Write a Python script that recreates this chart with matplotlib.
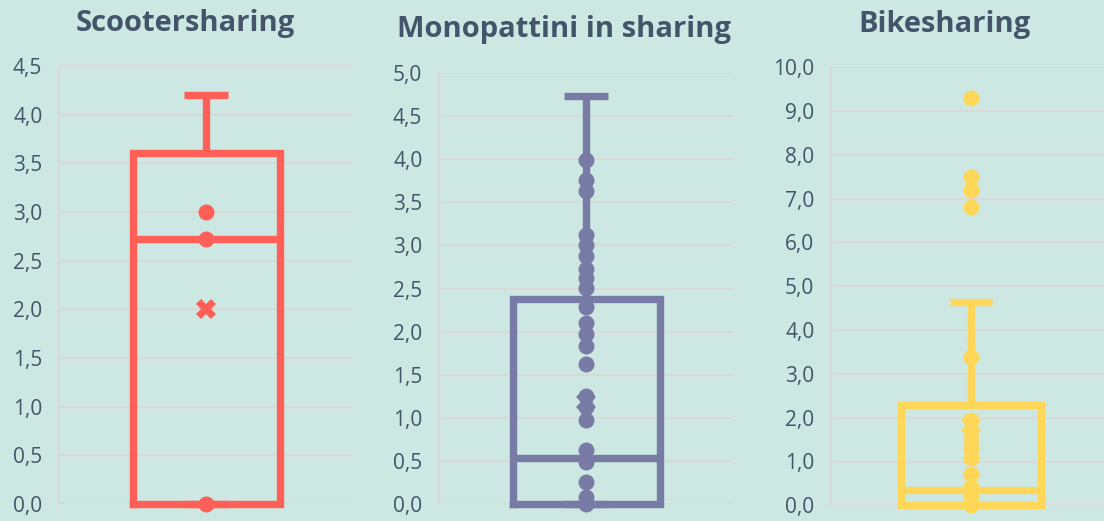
import matplotlib
matplotlib.use("Agg")
import matplotlib.pyplot as plt
import numpy as np

# summary values
categories = ["Scootersharing", "Monopattini in sharing", "Bikesharing"]
whisker_low = [0.0, 0.0, 0.0]
q1 = [0.0, 0.0, 0.0]
median = [2.72, 0.54, 0.35]
q3 = [3.61, 2.38, 2.29]
whisker_high = [4.2, 4.73, 4.65]
means = [2.0, 1.19, 1.84]

# inner points and outliers
scooter_points = [0.0, 2.72, 3.0]
monopattini_points = [0.0, 0.09, 0.26, 0.49, 0.63, 0.98, 1.13, 1.25, 1.63, 1.83,
                      1.97, 2.10, 2.29, 2.51, 2.62, 2.73, 2.88, 3.0, 3.12, 3.63,
                      3.76, 3.99]
bike_points = [0.0, 0.2, 0.42, 0.71, 1.07, 1.28, 1.49, 1.72, 1.95, 3.38,
               6.82, 7.2, 7.5, 9.29]
points = [scooter_points, monopattini_points, bike_points]

y_max = [4.5, 5.0, 10.0]
y_step = [0.5, 0.5, 1.0]

colors = ["#FF5F56", "#797BA7", "#FFD758"]
bg = "#CDE8E2"
text_col = "#44546A"
grid_col = "#D9D9D9"

# axes rectangles in pixels: left, right, top, bottom
W, H = 1104, 521
boxes_px = [(59, 353, 66, 504), (439, 733, 72.7, 504.3), (831, 1111, 67.3, 505.3)]
titles_px = [(185, 31), (564, 37), (944.5, 32)]

fig = plt.figure(figsize=(W / 100, H / 100), dpi=100, facecolor=bg)

for i in range(3):
    l, r, t, b = boxes_px[i]
    ax = fig.add_axes([l / W, 1 - b / H, (r - l) / W, (b - t) / H])
    ax.set_facecolor(bg)
    c = colors[i]
    stats = [dict(whislo=whisker_low[i], q1=q1[i], med=median[i], q3=q3[i],
                  whishi=whisker_high[i], mean=means[i])]
    lw = 5.3
    parts = ax.bxp(stats, positions=[1], widths=1.0, showmeans=False,
                   showfliers=False, capwidths=0.3,
                   boxprops=dict(color=c, linewidth=lw, solid_joinstyle="miter"),
                   medianprops=dict(color=c, linewidth=lw, solid_capstyle="butt"),
                   whiskerprops=dict(color=c, linewidth=lw, solid_capstyle="butt"),
                   capprops=dict(color=c, linewidth=lw, solid_capstyle="butt"),
                   zorder=3)
    for key in parts:
        for artist in parts[key]:
            artist.set_clip_on(False)
    ax.plot([1] * len(points[i]), points[i], "o", color=c, markersize=11.5,
            markeredgewidth=0, zorder=4, clip_on=False)
    ax.plot([1], [means[i]], "X", color=c, markersize=14, markeredgewidth=0,
            zorder=5)

    ax.set_xlim(0, 2)
    ax.set_ylim(0, y_max[i])
    ticks = np.arange(0, y_max[i] + 1e-9, y_step[i])
    ax.set_yticks(ticks)
    ax.set_yticklabels([f"{v:.1f}".replace(".", ",") for v in ticks],
                       fontsize=15, color=text_col, fontfamily="Open Sans")
    ax.tick_params(axis="y", length=0, pad=12)
    ax.set_xticks([])
    ax.yaxis.grid(True, color=grid_col, linewidth=1.5, zorder=0)
    ax.set_axisbelow(True)
    for s in ["top", "right", "bottom"]:
        ax.spines[s].set_visible(False)
    ax.spines["left"].set_color(grid_col)
    ax.spines["left"].set_linewidth(1.5)

    tx, ty = titles_px[i]
    fig.text(tx / W, 1 - ty / H, categories[i], ha="center", va="baseline",
             fontsize=21, fontweight="bold", color=text_col,
             fontfamily="Open Sans")

fig.savefig("out.png", dpi=100, facecolor=bg)
